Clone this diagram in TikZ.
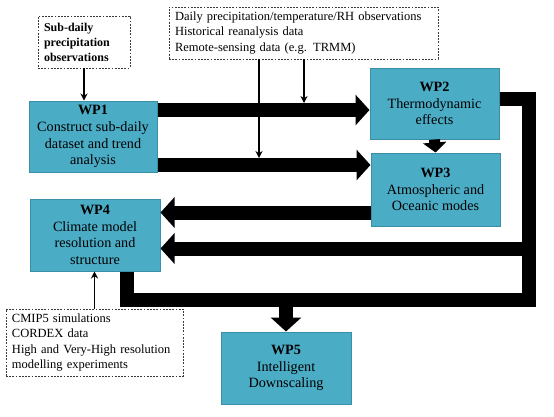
\documentclass[tikz,border=0pt]{standalone}
\usepackage{fontspec}
\setmainfont{Liberation Serif}
\usetikzlibrary{arrows.meta}

\definecolor{wpfill}{HTML}{4BACC6}
\definecolor{wpline}{HTML}{3A8FA6}

\tikzset{
  wp/.style={draw=wpline,line width=1pt,fill=wpfill,minimum width=128pt,
    minimum height=71pt,inner sep=0pt,align=center,
    font=\fontsize{14.2}{16.7}\selectfont},
  source/.style={draw=gray!45!black,dash pattern=on 1.8pt off 1.4pt,
    line width=0.7pt,inner xsep=6pt,inner ysep=0pt,align=left,
    font=\fontsize{12.5}{15.3}\selectfont},
  band/.style={line width=14pt},
  bigarrow/.style={line width=14pt,-{Triangle[length=14pt,width=30pt]}},
  smallarrow/.style={line width=11pt,-{Triangle[length=10pt,width=23pt]}},
  feed/.style={line width=1.2pt,-{Stealth[length=7pt,width=7pt]}}
}

\begin{document}
\begin{tikzpicture}[x=1pt,y=-1pt]
\useasboundingbox (0,0) rectangle (554,416);

% Work packages
\node[wp] (WP1) at (93,136.5) {\textbf{WP1}\\Construct sub-daily\\dataset and trend\\analysis};
\node[wp,minimum width=129pt] (WP2) at (434.5,103.5) {\textbf{WP2}\\Thermodynamic\\effects};
\node[wp,minimum width=129pt,minimum height=73pt] (WP3) at (435.5,189.5) {\textbf{WP3}\\Atmospheric and\\Oceanic modes};
\node[wp,minimum width=130pt,minimum height=72pt] (WP4) at (95,235) {\textbf{WP4}\\Climate model\\resolution and\\structure};
\node[wp,minimum width=130pt,minimum height=72pt] (WP5) at (286,368) {\textbf{WP5}\\Intelligent\\Downscaling};

% Data sources
\node[source,text width=80pt,minimum height=52pt,font=\bfseries\fontsize{12}{15}\selectfont] (subd) at (84,42) {Sub-daily\\precipitation\\observations};
\node[source,text width=257pt,minimum height=52pt] (obs) at (303.5,33) {Daily precipitation/temperature/RH observations\\Historical reanalysis data\\Remote-sensing data (e.g. TRMM)};
\node[source,text width=165pt,minimum height=67pt] (models) at (94.5,342.5) {CMIP5 simulations\\CORDEX data\\High and Very-High resolution\\modelling experiments};

% Rows and corners of the thick arrows
\coordinate (rowA) at (0,110);
\coordinate (rowB) at (0,165);
\coordinate (rowC) at (0,212.5);
\coordinate (branch) at (528.5,248.5);
\coordinate (loopNE) at (528.5,99);
\coordinate (loopSE) at (528.5,299.5);
\coordinate (loopSW) at (127,299.5);

% Thick arrows
\draw[bigarrow] (WP1.east |- rowA) -- (WP2.west |- rowA);
\draw[bigarrow] (WP1.east |- rowB) -- (WP3.west |- rowB);
\draw[bigarrow] (WP3.west |- rowC) -- (WP4.east |- rowC);
\draw[smallarrow] (WP2.south) -- (WP3.north);
\draw[band] (WP2.east |- loopNE) -- (loopNE) -- (loopSE) -- (loopSW) -- (WP4.south -| loopSW);
\draw[bigarrow] (branch) -- (WP4.east |- branch);
\draw[bigarrow] (WP5.north |- loopSW) -- (WP5.north);

% Thin arrows from the data sources
\coordinate (tapA) at (259,158);
\coordinate (tapB) at (304,103);
\draw[feed] (subd.south) -- (subd.south |- WP1.north);
\draw[feed] (obs.south -| tapA) -- (tapA);
\draw[feed] (obs.south -| tapB) -- (tapB);
\draw[feed] (models.north) -- (models.north |- WP4.south);

\end{tikzpicture}
\end{document}
